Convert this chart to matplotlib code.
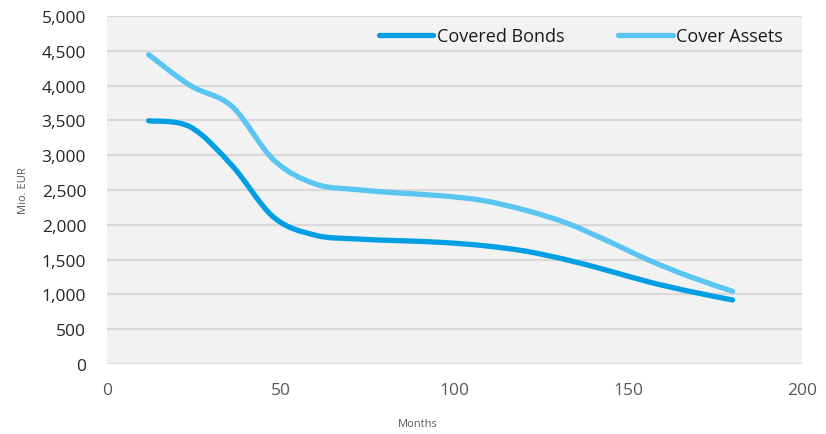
import matplotlib
matplotlib.use("Agg")
import matplotlib.pyplot as plt
from matplotlib.path import Path
from matplotlib.patches import PathPatch
from matplotlib.lines import Line2D
from matplotlib.ticker import FuncFormatter
import numpy as np

plt.rcParams['font.family'] = ['Open Sans', 'DejaVu Sans']

months = [12, 24, 36, 48, 60, 72, 84, 96, 108, 120, 132, 144, 156, 168, 180]
covered_bonds = [3495, 3405, 2850, 2107, 1850, 1796, 1772, 1748, 1702, 1625, 1500, 1345, 1178, 1040, 920]
cover_assets = [4445, 4000, 3700, 2930, 2586, 2505, 2457, 2418, 2350, 2215, 2030, 1770, 1490, 1250, 1045]
series_names = ["Covered Bonds", "Cover Assets"]
colors = ["#009fe3", "#5bc5f2"]
x_ticks = [0, 50, 100, 150, 200]
y_ticks = list(range(0, 5001, 500))


def smooth_path(xs, ys):
    pts = np.column_stack([xs, ys]).astype(float)
    n = len(pts)
    verts = [pts[0]]
    codes = [Path.MOVETO]
    for i in range(n - 1):
        p0 = pts[i - 1] if i > 0 else pts[i]
        p1 = pts[i]
        p2 = pts[i + 1]
        p3 = pts[i + 2] if i + 2 < n else pts[i + 1]
        c1 = p1 + (p2 - p0) / 6.0
        c2 = p2 - (p3 - p1) / 6.0
        verts += [c1, c2, p2]
        codes += [Path.CURVE4] * 3
    return Path(verts, codes)


fig = plt.figure(figsize=(8.26, 4.35), dpi=100)
ax = fig.add_axes([107 / 826, 1 - 365 / 435, (802 - 107) / 826, (365 - 17) / 435])
ax.set_facecolor("#f2f2f2")
ax.set_xlim(0, 200)
ax.set_ylim(0, 5000)
ax.set_xticks(x_ticks)
ax.set_yticks(y_ticks)
ax.yaxis.set_major_formatter(FuncFormatter(lambda v, p: f"{int(v):,}"))
ax.grid(axis="y", color="#d9d9d9", linewidth=1.6)
ax.set_axisbelow(True)
for s in ax.spines.values():
    s.set_visible(False)
ax.tick_params(axis="both", length=0)
ax.tick_params(axis="y", labelsize=12.5, labelcolor="#262626", pad=15)
ax.tick_params(axis="x", labelsize=12.5, labelcolor="#595959", pad=13)

for ys, c in zip([covered_bonds, cover_assets], colors):
    patch = PathPatch(smooth_path(months, ys), facecolor="none", edgecolor=c,
                      linewidth=3.8, capstyle="round", joinstyle="round")
    ax.add_patch(patch)

fig.text(418 / 826, 1 - 425 / 435, "Months", fontsize=8, color="#595959",
         ha="center", va="center")
fig.text(24 / 826, 1 - 191 / 435, "Mio. EUR", fontsize=8, color="#595959",
         ha="center", va="center", rotation=90)

handles = [Line2D([0], [0], color=c, linewidth=3.8, solid_capstyle="round") for c in colors]
leg = ax.legend(handles, series_names, loc="center right", ncol=2, frameon=False,
                fontsize=13, handlelength=3.0, handletextpad=0.2, columnspacing=3.0,
                borderaxespad=0, borderpad=0,
                bbox_to_anchor=((783 - 107) / 695, (365 - 37) / 348))
for t in leg.get_texts():
    t.set_color("#1a1a1a")

fig.savefig("out.png", dpi=100)
